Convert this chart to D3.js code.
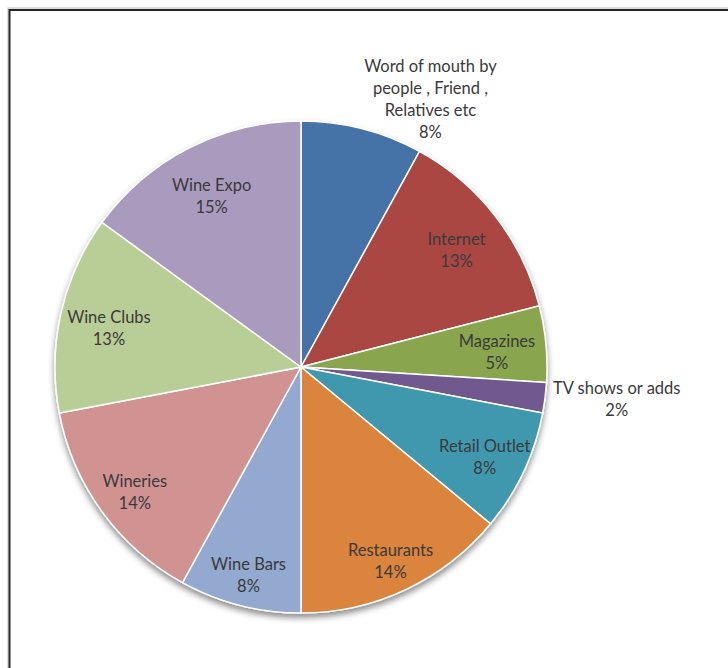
<!doctype html>
<html>
<head>
<meta charset="utf-8">
<title>Wine sources pie</title>
<script src="https://d3js.org/d3.v7.min.js"></script>
<style>
  body { margin: 0; background: #fff; }
  text { font-family: Lato, "Open Sans", sans-serif; font-size: 16.5px; fill: #3a3a3a; }
</style>
</head>
<body>
<script>
// categories, values (percent) and slice colours
const categories = ["Word of mouth by people , Friend , Relatives etc", "Internet", "Magazines",
  "TV shows or adds", "Retail Outlet", "Restaurants", "Wine Bars", "Wineries", "Wine Clubs", "Wine Expo"];
const labelLines = [["Word of mouth by", "people , Friend ,", "Relatives etc"], ["Internet"], ["Magazines"],
  ["TV shows or adds"], ["Retail Outlet"], ["Restaurants"], ["Wine Bars"], ["Wineries"], ["Wine Clubs"], ["Wine Expo"]];
const values = [8, 13, 5, 2, 8, 14, 8, 14, 13, 15];
const colors = ["#4572A7", "#AA4643", "#89A54E", "#71588F", "#4198AF", "#DB843D",
  "#93A9CF", "#D19392", "#B9CD96", "#A99BBD"];
const outside = [true, false, false, true, false, false, false, false, false, false];

const w = 728, h = 668;
const cx = 301, cy = 367, R = 246;

const svg = d3.select("body").append("svg")
  .attr("width", w).attr("height", h);

const defs = svg.append("defs");
const f = defs.append("filter").attr("id", "shadow")
  .attr("x", "-10%").attr("y", "-10%").attr("width", "120%").attr("height", "125%");
f.append("feDropShadow").attr("dx", 0).attr("dy", 4).attr("stdDeviation", 3)
  .attr("flood-color", "#000").attr("flood-opacity", 0.45);

// chart frame (runs past the right and bottom edges)
svg.append("rect").attr("x", 8).attr("y", 8).attr("width", 900).attr("height", 900)
  .attr("fill", "none").attr("stroke", "#bbb").attr("stroke-width", 1);
svg.append("rect").attr("x", 9.5).attr("y", 10).attr("width", 900).attr("height", 900)
  .attr("fill", "none").attr("stroke", "#262626").attr("stroke-width", 2);

const pie = d3.pie().sort(null).value(d => d);
const arcs = pie(values);
const arc = d3.arc().innerRadius(0).outerRadius(R);

const g = svg.append("g").attr("transform", `translate(${cx},${cy})`);
g.append("g").attr("filter", "url(#shadow)")
  .selectAll("path").data(arcs).enter().append("path")
  .attr("d", arc)
  .attr("fill", (d, i) => colors[i])
  .attr("stroke", "#fff").attr("stroke-width", 1.5);

const lineH = 22;
arcs.forEach((d, i) => {
  const lines = labelLines[i].concat([values[i] + "%"]);
  const a = (d.startAngle + d.endAngle) / 2;
  const s = Math.sin(a), c = Math.cos(a);
  const t = g.append("text").attr("text-anchor", "middle");
  lines.forEach((l, k) => t.append("tspan").attr("x", 0).attr("dy", k ? lineH : 0).text(l));
  const bw = d3.max(t.selectAll("tspan").nodes(), n => n.getComputedTextLength());
  const bh = lines.length * lineH;
  let x, y;
  if (outside[i]) {
    const r = R + 8;
    x = r * s + Math.sign(s) * bw / 2;
    y = -r * c - c * bh * 0.25;
  } else {
    const r = R * (0.80 + 0.06 * Math.max(0, -c));
    x = r * s;
    y = -r * c + 5;
  }
  // centre the text block on (x, y)
  t.attr("transform", `translate(${x},${y - bh / 2 + lineH / 2 + 5})`);
});
</script>
</body>
</html>
